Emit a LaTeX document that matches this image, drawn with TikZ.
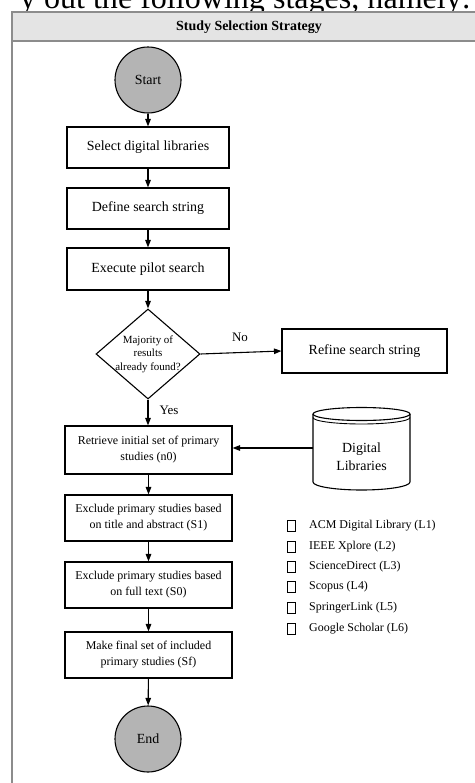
\documentclass[tikz,border=0pt]{standalone}
\usepackage{fontspec}
\setmainfont{Liberation Serif}
\usetikzlibrary{shapes.geometric,arrows.meta}
\definecolor{framegray}{HTML}{8C8C8C}
\definecolor{headgray}{HTML}{E4E4E4}
\definecolor{termgray}{HTML}{B4B4B4}
\begin{document}
\begin{tikzpicture}[x=1bp,y=-1bp,
  box/.style={draw, line width=1.1pt, inner sep=0pt, align=center},
  bigtxt/.style={font=\fontsize{14}{17}\selectfont},
  smalltxt/.style={font=\fontsize{12}{16}\selectfont},
  term/.style={circle, draw, line width=1.1pt, fill=termgray, minimum size=66bp, inner sep=0pt, font=\fontsize{14}{17}\selectfont},
  conn/.style={line width=1.1pt, -{Triangle[length=7.5bp,width=5.5bp]}},
  legbox/.style={draw, line width=0.6pt, minimum width=8bp, minimum height=11bp, inner sep=0pt},
  legtxt/.style={anchor=west, inner sep=0pt, font=\fontsize{12}{14}\selectfont}
]
\clip (0,0) rectangle (475,783);
\fill[white] (0,0) rectangle (475,783);
% partial line of the surrounding text
\node[anchor=base east, inner sep=0pt, font=\fontsize{32.2}{36}\selectfont] (toptext) at (471,8.5) {y out the following stages, namely:};
% frame and header
\draw[framegray, line width=1.4pt, fill=white] (12,12) rectangle (490,800);
\draw[framegray, line width=1.1pt, fill=headgray] (12,12) rectangle (490,41);
\node[font=\bfseries\fontsize{14}{16}\selectfont] (title) at (249,27) {Study Selection Strategy};
% flow nodes
\node[term] (start) at (148,80) {Start};
\node[box, bigtxt, minimum width=162bp, minimum height=41bp] (b1) at (148,147.5) {Select digital libraries};
\node[box, bigtxt, minimum width=162bp, minimum height=41bp] (b2) at (148,208.5) {Define search string};
\node[box, bigtxt, minimum width=162bp, minimum height=42bp] (b3) at (148,269) {Execute pilot search};
\node[diamond, draw, line width=1.1pt, minimum width=104bp, minimum height=90bp, inner sep=0pt] (dec) at (148,354) {};
\node[align=center, inner sep=0pt, font=\fontsize{11}{13.5}\selectfont] (dectext) at (dec.center) {Majority of\\results\\already found?};
\node[box, bigtxt, minimum width=165bp, minimum height=44bp] (refine) at (364.5,351) {Refine search string};
\node[box, smalltxt, minimum width=167bp, minimum height=48bp] (b4) at (148.5,450) {Retrieve initial set of primary\\studies (n0)};
\node[box, smalltxt, minimum width=167bp, minimum height=46bp] (b5) at (148.5,518) {Exclude primary studies based\\on title and abstract (S1)};
\node[box, smalltxt, minimum width=167bp, minimum height=46bp] (b6) at (148.5,585) {Exclude primary studies based\\on full text (S0)};
\node[box, smalltxt, minimum width=167bp, minimum height=46bp] (b7) at (148.5,655) {Make final set of included\\primary studies (Sf)};
\node[term] (end) at (148,739) {End};
% database cylinder
\node[minimum width=97bp, minimum height=82bp, inner sep=0pt] (cyl) at (361.5,448) {};
\draw[line width=1.1pt] (313,414) -- (313,482) arc[start angle=180, end angle=0, x radius=48.5, y radius=8] -- (410,414);
\draw[line width=1.1pt] (361.5,414) ellipse[x radius=48.5, y radius=6.5];
\draw[line width=0.9pt] (313,417.5) arc[start angle=180, end angle=0, x radius=48.5, y radius=6.5];
\node[align=center, inner sep=0pt, font=\fontsize{14}{18}\selectfont] (cyltext) at (361.5,457) {Digital\\Libraries};
% connectors
\draw[conn] (start) -- (b1);
\draw[conn] (b1) -- (b2);
\draw[conn] (b2) -- (b3);
\draw[conn] (b3) -- (dec);
\draw[conn] (dec.east) -- (refine.west);
\draw[conn] (dec.south) -- (b4.north -| dec.south);
\draw[conn] (cyl.west) -- (cyl.west -| b4.east);
\draw[conn] (b4) -- (b5);
\draw[conn] (b5) -- (b6);
\draw[conn] (b6) -- (b7);
\draw[conn] (b7) -- (end);
\node[font=\fontsize{13}{15}\selectfont] (no) at (240,337) {No};
\node[font=\fontsize{13}{15}\selectfont] (yes) at (169,410) {Yes};
% legend
\foreach \i/\yy/\t in {1/526/{ACM Digital Library (L1)}, 2/547/{IEEE Xplore (L2)}, 3/567/{ScienceDirect (L3)}, 4/587/{Scopus (L4)}, 5/608/{SpringerLink (L5)}, 6/629/{Google Scholar (L6)}}{
  \node[legbox] (lb\i) at (291,\yy) {};
  \node[legtxt] (lt\i) at (309,\yy) {\t};
}
\end{tikzpicture}
\end{document}
